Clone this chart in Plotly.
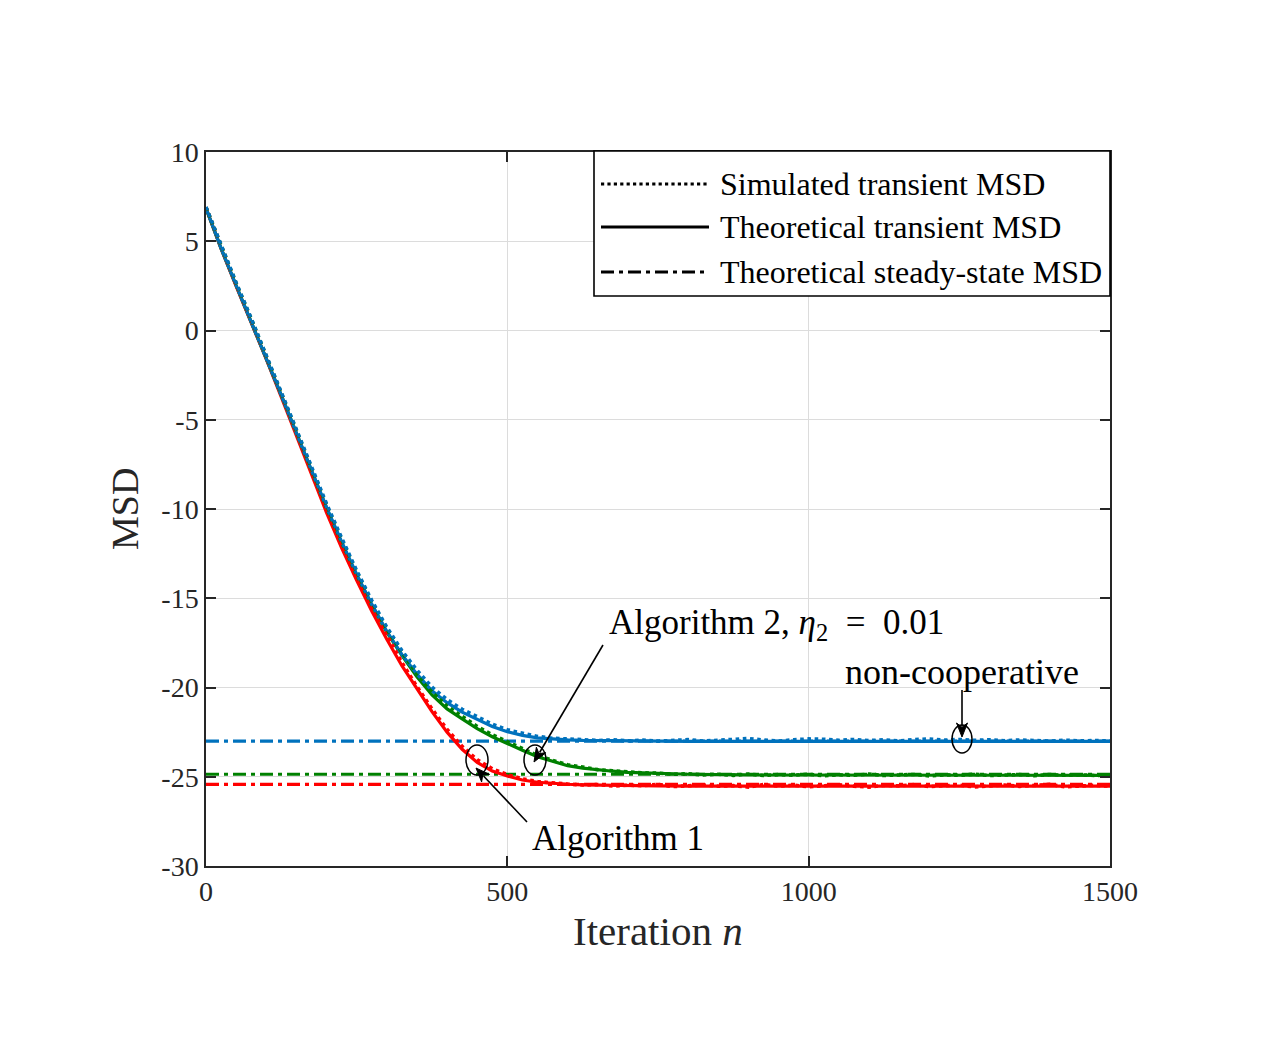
import math
import plotly.graph_objects as go

# ---------------- data ----------------
n_sim = list(range(0, 1501, 25))

red_sim = [6.9, 4.7, 2.6, 0.6, -1.45, -3.55, -5.7, -7.85, -9.95, -11.95,
           -13.8, -15.5, -17.1, -18.6, -19.95, -21.2, -22.35, -23.3, -24.05, -24.55,
           -24.88, -25.12, -25.27, -25.36, -25.41, -25.46, -25.44, -25.52, -25.47, -25.5,
           -25.43, -25.55, -25.49, -25.46, -25.53, -25.5, -25.58, -25.44, -25.52, -25.47,
           -25.56, -25.5, -25.45, -25.53, -25.58, -25.48, -25.51, -25.44, -25.55, -25.5,
           -25.47, -25.57, -25.49, -25.46, -25.54, -25.5, -25.43, -25.56, -25.51, -25.48,
           -25.53]

green_sim = [6.9, 4.72, 2.65, 0.65, -1.4, -3.48, -5.6, -7.72, -9.78, -11.7,
             -13.52, -15.2, -16.72, -18.03, -19.22, -20.25, -21.05, -21.62, -22.18, -22.65,
             -23.05, -23.44, -23.8, -24.08, -24.33, -24.46, -24.6, -24.66, -24.74, -24.78,
             -24.8, -24.86, -24.83, -24.9, -24.86, -24.92, -24.85, -24.93, -24.88, -24.91,
             -24.86, -24.94, -24.89, -24.92, -24.85, -24.93, -24.9, -24.87, -24.95, -24.89,
             -24.92, -24.86, -24.93, -24.9, -24.88, -24.94, -24.87, -24.92, -24.89, -24.93,
             -24.9]

blue_sim = [6.92, 4.75, 2.68, 0.68, -1.38, -3.45, -5.55, -7.65, -9.7, -11.62,
            -13.45, -15.12, -16.62, -17.93, -19.03, -19.98, -20.68, -21.22, -21.66, -22.05,
            -22.37, -22.58, -22.74, -22.84, -22.9, -22.92, -22.97, -22.93, -22.99, -22.95,
            -23.01, -22.96, -22.92, -23.0, -22.95, -22.9, -22.86, -22.94, -23.0, -22.93,
            -22.88, -22.9, -22.96, -22.91, -22.97, -22.93, -22.99, -22.92, -22.88, -22.95,
            -22.91, -22.96, -22.93, -22.98, -22.94, -22.97, -23.0, -22.95, -22.99, -22.97,
            -23.0]

n_theory = list(range(0, 701, 25)) + [750, 800, 900, 1000, 1250, 1500]

red_theory = [6.85, 4.58, 2.48, 0.45, -1.6, -3.73, -5.88, -8.06, -10.2, -12.18,
              -14.0, -15.71, -17.3, -18.78, -20.1, -21.35, -22.5, -23.46, -24.2, -24.68,
              -24.96, -25.18, -25.31, -25.38, -25.42, -25.45, -25.47, -25.49, -25.5,
              -25.51, -25.52, -25.52, -25.52, -25.52, -25.52]

green_theory = [6.85, 4.6, 2.52, 0.5, -1.55, -3.63, -5.75, -7.88, -9.95, -11.88,
                -13.7, -15.38, -16.9, -18.2, -19.4, -20.42, -21.2, -21.76, -22.3, -22.76,
                -23.15, -23.52, -23.88, -24.15, -24.38, -24.52, -24.62, -24.69, -24.75,
                -24.81, -24.86, -24.9, -24.91, -24.92, -24.92]

blue_theory = [6.85, 4.6, 2.52, 0.5, -1.55, -3.63, -5.75, -7.85, -9.9, -11.83,
               -13.65, -15.33, -16.85, -18.15, -19.25, -20.18, -20.85, -21.38, -21.8, -22.18,
               -22.48, -22.68, -22.82, -22.89, -22.93, -22.96, -22.97, -22.99, -23.0,
               -23.01, -23.02, -23.02, -23.02, -23.02, -23.02]

n_steady = [0, 1500]
red_steady = -25.43
green_steady = -24.86
blue_steady = -23.0

x_ticks = [0, 500, 1000, 1500]
x_tick_text = ["0", "500", "1000", "1500"]
y_ticks = [-30, -25, -20, -15, -10, -5, 0, 5, 10]
y_tick_text = ["-30", "-25", "-20", "-15", "-10", "-5", "0", "5", "10"]

legend_labels = ["Simulated transient MSD", "Theoretical transient MSD",
                 "Theoretical steady-state MSD"]

# ---------------- styling ----------------
RED = "#FF0000"
GREEN = "#008000"
BLUE = "#0072BD"
FONT = "Liberation Serif"
INK = "#262626"
DASHDOT = "13px,5px,4px,5px"

# plot-area pixel geometry
W, H = 1275, 1050
L, R, T, B = 206, 1110, 152, 866


def px(x):
    return (x - L) / (R - L)


def py(y):
    return (B - y) / (B - T)


fig = go.Figure()

for col, steady in [(RED, red_steady), (GREEN, green_steady), (BLUE, blue_steady)]:
    fig.add_trace(go.Scatter(x=n_steady, y=[steady, steady], mode="lines",
                             line=dict(color=col, width=3.2, dash=DASHDOT),
                             showlegend=False, hoverinfo="skip"))

for col, yt in [(RED, red_theory), (GREEN, green_theory), (BLUE, blue_theory)]:
    fig.add_trace(go.Scatter(x=n_theory, y=yt, mode="lines",
                             line=dict(color=col, width=3.2),
                             showlegend=False))

for col, ys in [(RED, red_sim), (GREEN, green_sim), (BLUE, blue_sim)]:
    fig.add_trace(go.Scatter(x=n_sim, y=ys, mode="lines",
                             line=dict(color=col, width=3.6, dash="dot"),
                             showlegend=False))

shapes = []
# legend box
shapes.append(dict(type="rect", xref="paper", yref="paper",
                   x0=px(594), x1=px(1110), y0=py(296), y1=py(151),
                   line=dict(color="black", width=1.6), fillcolor="white", layer="above"))
legend_rows = [184, 227, 272]
legend_dash = ["dot", "solid", "13px,5px,4px,5px"]
for row, dsh in zip(legend_rows, legend_dash):
    shapes.append(dict(type="line", xref="paper", yref="paper",
                       x0=px(601), x1=px(709), y0=py(row), y1=py(row),
                       line=dict(color="black", width=3.2, dash=dsh), layer="above"))

# ellipses
for cx, cy, rx, ry in [(477, 760, 11, 15), (535, 760, 11, 15), (962, 739, 10, 14)]:
    shapes.append(dict(type="circle", xref="paper", yref="paper",
                       x0=px(cx - rx), x1=px(cx + rx), y0=py(cy + ry), y1=py(cy - ry),
                       line=dict(color="black", width=1.5), layer="above"))

# arrows (shaft + filled head), pixel geometry: tail -> tip
for (tx, ty), (hx, hy) in [((527, 822), (476, 768)),
                           ((603, 645), (534, 762)),
                           ((962, 690), (962, 737))]:
    dx, dy = hx - tx, hy - ty
    d = math.hypot(dx, dy)
    ux, uy = dx / d, dy / d
    hl, hw = 14, 5.5
    bx, by = hx - ux * hl, hy - uy * hl
    shapes.append(dict(type="line", xref="paper", yref="paper",
                       x0=px(tx), y0=py(ty), x1=px(bx + ux * 3), y1=py(by + uy * 3),
                       line=dict(color="black", width=1.6), layer="above"))
    p1 = (bx - uy * hw, by + ux * hw)
    p2 = (bx + uy * hw, by - ux * hw)
    notch = (hx - ux * hl * 0.7, hy - uy * hl * 0.7)
    path = "M {} {} L {} {} L {} {} L {} {} Z".format(
        px(hx), py(hy), px(p1[0]), py(p1[1]), px(notch[0]), py(notch[1]),
        px(p2[0]), py(p2[1]))
    shapes.append(dict(type="path", xref="paper", yref="paper", path=path,
                       fillcolor="black", line=dict(color="black", width=1), layer="above"))

annotations = []
for row, lab in zip(legend_rows, legend_labels):
    annotations.append(dict(xref="paper", yref="paper", x=px(718), y=py(row),
                            xanchor="left", yanchor="middle", text=lab, showarrow=False,
                            font=dict(family=FONT, size=32, color="black")))

annotations.append(dict(xref="paper", yref="paper", x=px(607), y=py(624),
                        xanchor="left", yanchor="middle", showarrow=False,
                        text="Algorithm 2, <i>η</i><sub>2</sub>  =  0.01",
                        font=dict(family=FONT, size=35, color="black")))
annotations.append(dict(xref="paper", yref="paper", x=px(530), y=py(838),
                        xanchor="left", yanchor="middle", showarrow=False,
                        text="Algorithm 1",
                        font=dict(family=FONT, size=35, color="black")))
annotations.append(dict(xref="paper", yref="paper", x=px(962), y=py(672),
                        xanchor="center", yanchor="middle", showarrow=False,
                        text="non-cooperative",
                        font=dict(family=FONT, size=36, color="black")))
# axis titles
annotations.append(dict(xref="paper", yref="paper", x=px(658), y=py(931),
                        xanchor="center", yanchor="middle", showarrow=False,
                        text="Iteration <i>n</i>",
                        font=dict(family=FONT, size=41, color=INK)))
annotations.append(dict(xref="paper", yref="paper", x=px(125), y=py(509),
                        xanchor="center", yanchor="middle", showarrow=False,
                        text="MSD", textangle=-90,
                        font=dict(family=FONT, size=38, color=INK)))

axis_common = dict(showline=True, linecolor=INK, linewidth=1.5, mirror="allticks",
                   ticks="inside", ticklen=10, tickwidth=1.5, tickcolor=INK,
                   showgrid=True, gridcolor="#DCDCDC", gridwidth=1.3, zeroline=False,
                   tickfont=dict(family=FONT, size=28, color=INK))

fig.update_layout(
    width=W, height=H,
    margin=dict(l=L, r=W - R, t=T, b=H - B, pad=0),
    paper_bgcolor="white", plot_bgcolor="white",
    xaxis=dict(range=[0, 1500], tickvals=x_ticks, ticktext=x_tick_text, **axis_common),
    yaxis=dict(range=[-30, 10], tickvals=y_ticks, ticktext=y_tick_text, **axis_common),
    shapes=shapes, annotations=annotations, showlegend=False,
)

fig.write_html("out.html")
